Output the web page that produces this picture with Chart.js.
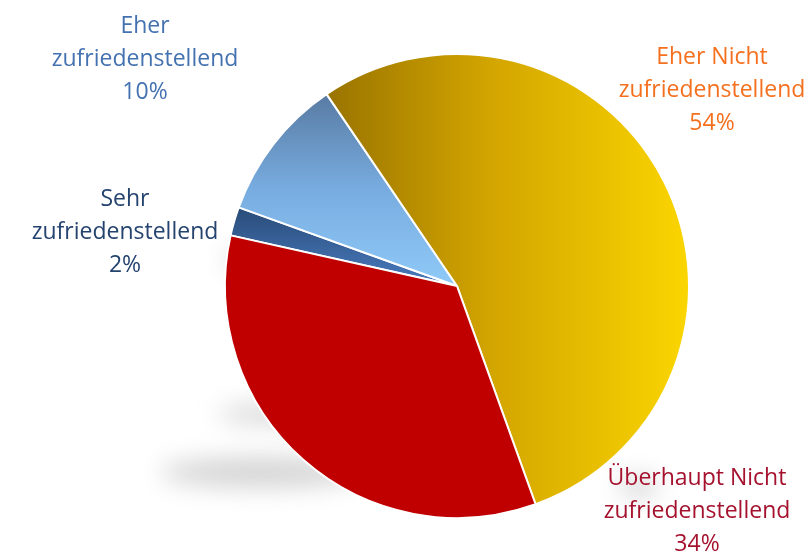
<!DOCTYPE html>
<html>
<head>
<meta charset="utf-8">
<script src="https://cdn.jsdelivr.net/npm/chart.js@4/dist/chart.umd.min.js"></script>
<style>
html,body{margin:0;padding:0;background:#fff;}
#wrap{position:relative;width:810px;height:553px;}
</style>
</head>
<body>
<div id="wrap"><canvas id="c" width="810" height="553"></canvas></div>
<script>
const categories = ["Sehr zufriedenstellend", "Eher zufriedenstellend", "Eher Nicht zufriedenstellend", "Überhaupt Nicht zufriedenstellend"];
const values = [2, 10, 54, 34];
const labelLines = [
  ["Sehr", "zufriedenstellend", "2%"],
  ["Eher", "zufriedenstellend", "10%"],
  ["Eher Nicht", "zufriedenstellend", "54%"],
  ["Überhaupt Nicht", "zufriedenstellend", "34%"]
];
const labelColors = ["#24436f", "#4472b0", "#f5701e", "#a5122e"];
const labelPos = [[125, 199], [145, 26], [712, 57], [697, 478]];

function geom(chart) {
  const a = chart.chartArea;
  return { cx: (a.left + a.right) / 2, cy: (a.top + a.bottom) / 2, r: Math.min(a.right - a.left, a.bottom - a.top) / 2 };
}

function sliceColor(ctx) {
  const chart = ctx.chart;
  const c = chart.ctx;
  const i = ctx.dataIndex;
  if (!chart.chartArea) return "#888";
  const { cx, cy, r } = geom(chart);
  if (i === 2) {
    const g = c.createLinearGradient(cx - 0.55 * r, 0, cx + r, 0);
    g.addColorStop(0, "#9a7400");
    g.addColorStop(0.45, "#d3a500");
    g.addColorStop(1, "#fbd600");
    return g;
  }
  if (i === 3) return "#c00000";
  if (i === 1) {
    const g = c.createLinearGradient(0, cy - 0.83 * r, 0, cy);
    g.addColorStop(0, "#587aa2");
    g.addColorStop(0.5, "#78ace0");
    g.addColorStop(1, "#8fcaf8");
    return g;
  }
  const g = c.createLinearGradient(0, cy - 0.35 * r, 0, cy);
  g.addColorStop(0, "#284a76");
  g.addColorStop(1, "#4a7cc0");
  return g;
}

const shadowPlugin = {
  id: "shadows",
  beforeDatasetsDraw(chart) {
    const c = chart.ctx;
    const { cx, cy, r } = geom(chart);
    c.save();
    c.filter = "blur(12px)";
    c.fillStyle = "rgba(160,160,160,0.45)";
    const blobs = [
      [-0.97, -0.11, 0.13, 0.04],
      [-0.95, 0.55, 0.38, 0.04],
      [-1.15, 0.8, 0.62, 0.065],
      [0.72, 0.86, 0.12, 0.045]
    ];
    blobs.forEach(b => {
      c.beginPath();
      c.ellipse(cx + b[0] * r + b[2] * r * 0.5, cy + b[1] * r, b[2] * r * 0.7, b[3] * r, 0, 0, Math.PI * 2);
      c.fill();
    });
    c.restore();
  }
};

const labelPlugin = {
  id: "sliceLabels",
  afterDatasetsDraw(chart) {
    const c = chart.ctx;
    c.save();
    c.font = "23px 'Open Sans', sans-serif";
    c.textAlign = "center";
    c.textBaseline = "middle";
    labelLines.forEach((lines, i) => {
      c.fillStyle = labelColors[i];
      lines.forEach((t, k) => {
        c.fillText(t, labelPos[i][0], labelPos[i][1] + k * 33);
      });
    });
    c.restore();
  }
};

new Chart(document.getElementById("c"), {
  type: "pie",
  data: {
    labels: categories,
    datasets: [{
      data: values,
      backgroundColor: sliceColor,
      borderColor: "#ffffff",
      borderWidth: 2
    }]
  },
  options: {
    responsive: false,
    animation: false,
    rotation: -77.4,
    layout: { padding: { top: 53, bottom: 34, left: 104, right: 0 } },
    plugins: { legend: { display: false }, tooltip: { enabled: false } }
  },
  plugins: [shadowPlugin, labelPlugin]
});
</script>
</body>
</html>
